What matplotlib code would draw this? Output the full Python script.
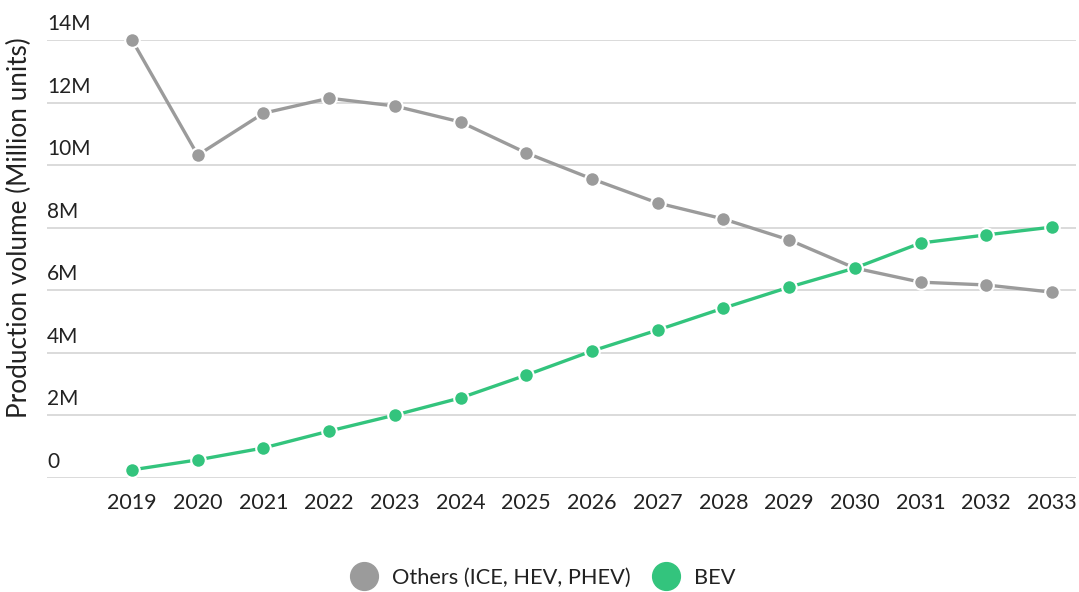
import matplotlib
matplotlib.use("Agg")
import matplotlib.pyplot as plt
from matplotlib.transforms import offset_copy
from matplotlib.lines import Line2D

plt.rcParams['font.family'] = ['Lato', 'DejaVu Sans']

years = [2019, 2020, 2021, 2022, 2023, 2024, 2025, 2026, 2027, 2028, 2029, 2030, 2031, 2032, 2033]
others = [14.0, 10.32, 11.66, 12.14, 11.89, 11.38, 10.39, 9.56, 8.79, 8.28, 7.61, 6.71, 6.26, 6.17, 5.94]
bev = [0.26, 0.58, 0.96, 1.50, 2.01, 2.56, 3.29, 4.06, 4.73, 5.43, 6.10, 6.71, 7.51, 7.77, 8.02]
ytick_vals = [0, 2, 4, 6, 8, 10, 12, 14]
ytick_labels = ["0", "2M", "4M", "6M", "8M", "10M", "12M", "14M"]
series_names = ["Others (ICE, HEV, PHEV)", "BEV"]

GRAY = "#9b9b9b"
GREEN = "#33c47d"
TEXT = "#222222"

W, H = 1079, 592
fig = plt.figure(figsize=(W / 100, H / 100), dpi=100)
ax = fig.add_axes([47 / W, 1 - 478 / H, (1076 - 47) / W, (478 - 40) / H])

step = (1052 - 132) / 14
ax.set_xlim(2019 - (132 - 47) / step, 2033 + (1076 - 1052) / step)
ax.set_ylim(0, 14)

for yv in ytick_vals:
    ax.axhline(yv, color="#d4d4d4", lw=1.2, zorder=0)

for vals, col in [(others, GRAY), (bev, GREEN)]:
    ax.plot(years, vals, color=col, lw=2.4, marker="o", markersize=10.5,
            markerfacecolor=col, markeredgecolor="white", markeredgewidth=1.5,
            clip_on=False, zorder=3)

for s in ax.spines.values():
    s.set_visible(False)
ax.set_yticks([])
ax.set_xticks(years)
ax.set_xticklabels([str(y) for y in years])
ax.tick_params(axis="x", length=0, pad=11, labelsize=15.5, labelcolor=TEXT)

tr = offset_copy(ax.get_yaxis_transform(), fig=fig, x=0, y=6, units="dots")
for yv, lab in zip(ytick_vals, ytick_labels):
    ax.text(0, yv, lab, transform=tr, ha="left", va="bottom", fontsize=15, color=TEXT)

fig.text(19 / W, 1 - 228 / H, "Production volume (Million units)", rotation=90,
         ha="center", va="center", fontsize=18.8, color=TEXT)

handles = [Line2D([], [], ls="none", marker="o", markersize=20, color=GRAY),
           Line2D([], [], ls="none", marker="o", markersize=20, color=GREEN)]
fig.legend(handles, series_names, loc="center", bbox_to_anchor=(543 / W, 1 - 578 / H),
           ncol=2, frameon=False, fontsize=15.7, handletextpad=0.7, columnspacing=1.0,
           labelcolor=TEXT, handlelength=1.2)

fig.savefig("out.png", dpi=100, facecolor="white")
